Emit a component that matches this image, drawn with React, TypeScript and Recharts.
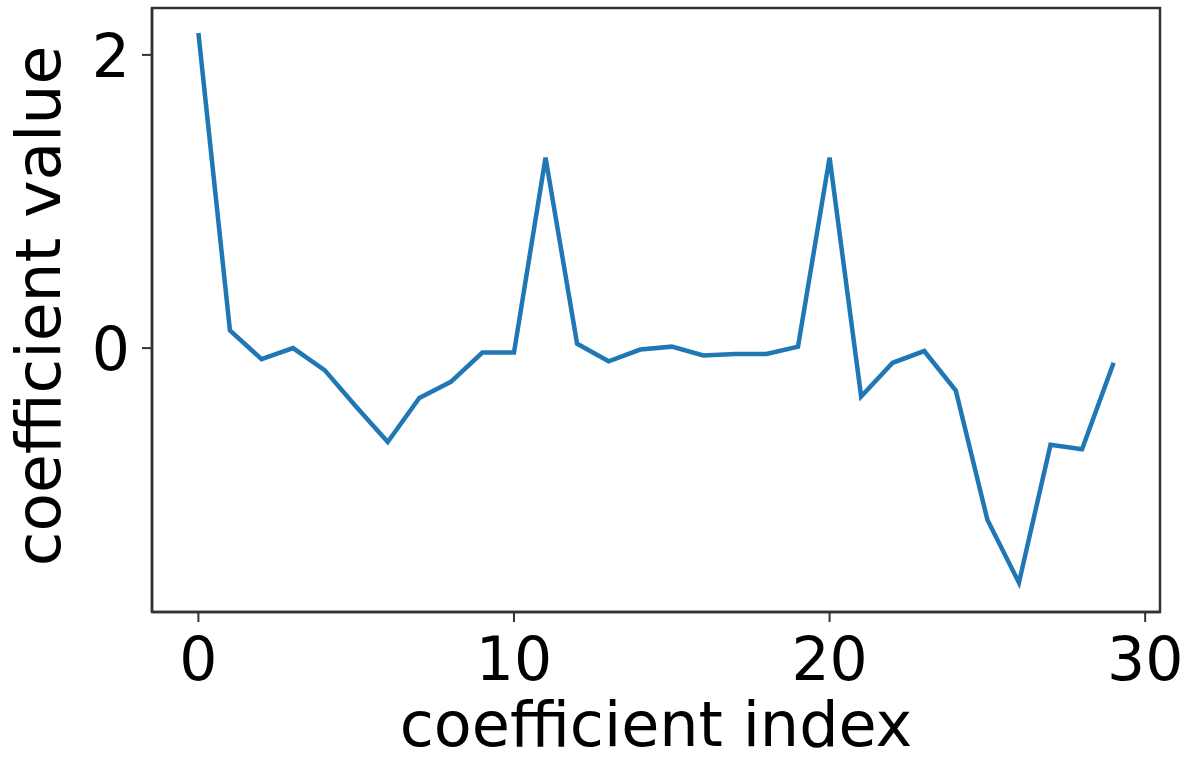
import React from 'react';
import { LineChart, Line, XAxis, YAxis, ReferenceArea } from 'recharts';

const indices = [0,1,2,3,4,5,6,7,8,9,10,11,12,13,14,15,16,17,18,19,20,21,22,23,24,25,26,27,28,29];
const values = [2.15, 0.12, -0.075, 0.0, -0.15, -0.40, -0.64, -0.34, -0.23, -0.03, -0.03, 1.30, 0.03, -0.09, -0.01, 0.01, -0.05, -0.04, -0.04, 0.01, 1.30, -0.33, -0.10, -0.02, -0.29, -1.17, -1.60, -0.66, -0.69, -0.10];
const xTicks = [0, 10, 20, 30];
const yTicks = [0, 2];
const xDomain = [-1.47, 30.47];
const yDomain = [-1.80, 2.32];

const data = indices.map((i, k) => ({ idx: i, value: values[k] }));

const FONT = '"DejaVu Sans", sans-serif';
const SPINE = '#333333';

const XTick = (props: any) => {
  const { x, y, payload } = props;
  return (
    <text x={x} y={y + 58} textAnchor="middle" fontFamily={FONT} fontSize={60} fill="#000">
      {payload.value}
    </text>
  );
};

const YTick = (props: any) => {
  const { x, y, payload } = props;
  return (
    <text x={x} y={y + 22} textAnchor="end" fontFamily={FONT} fontSize={60} fill="#000">
      {payload.value}
    </text>
  );
};

const XLabel = (props: any) => {
  const vb = props.viewBox;
  return (
    <text x={vb.x + vb.width / 2} y={746} textAnchor="middle" fontFamily={FONT} fontSize={62} fill="#000">
      coefficient index
    </text>
  );
};

const YLabel = (props: any) => {
  const vb = props.viewBox;
  const cy = vb.y + vb.height / 2 - 4;
  return (
    <text x={60} y={cy} transform={`rotate(-90, 60, ${cy})`} textAnchor="middle" fontFamily={FONT} fontSize={63} fill="#000">
      coefficient value
    </text>
  );
};

export default function App() {
  return (
    <div style={{ position: 'absolute', left: 0, top: 0, width: 1191, height: 761, background: '#fff' }}>
      <LineChart width={1191} height={761} data={data} margin={{ top: 8, right: 31, bottom: 0, left: 0 }}>
        <XAxis
          dataKey="idx"
          type="number"
          domain={xDomain}
          ticks={xTicks}
          allowDataOverflow
          height={149}
          tickSize={10}
          tickMargin={0}
          tick={<XTick />}
          axisLine={{ stroke: SPINE, strokeWidth: 2.5 }}
          tickLine={{ stroke: SPINE, strokeWidth: 2 }}
          label={<XLabel />}
        />
        <YAxis
          type="number"
          domain={yDomain}
          ticks={yTicks}
          allowDataOverflow
          width={152}
          tickSize={10}
          tickMargin={12}
          tick={<YTick />}
          axisLine={{ stroke: SPINE, strokeWidth: 2.5 }}
          tickLine={{ stroke: SPINE, strokeWidth: 2 }}
          label={<YLabel />}
        />
        <ReferenceArea
          x1={xDomain[0]}
          x2={xDomain[1]}
          y1={yDomain[0]}
          y2={yDomain[1]}
          fill="none"
          fillOpacity={0}
          stroke={SPINE}
          strokeWidth={2.5}
          ifOverflow="visible"
        />
        <Line
          type="linear"
          dataKey="value"
          stroke="#1f77b4"
          strokeWidth={4.5}
          dot={false}
          isAnimationActive={false}
          strokeLinejoin="miter"
        />
      </LineChart>
    </div>
  );
}
